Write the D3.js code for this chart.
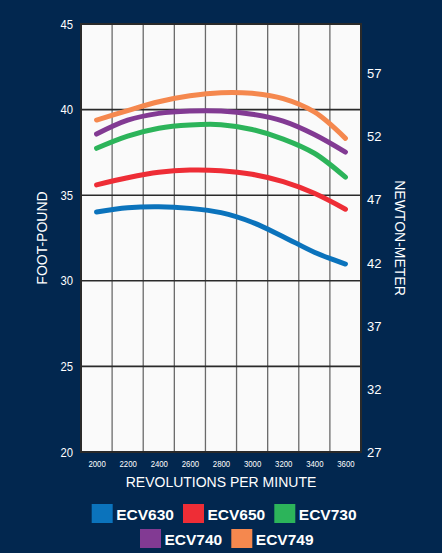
<!DOCTYPE html>
<html><head><meta charset="utf-8">
<script src="https://cdn.jsdelivr.net/npm/d3@7"></script>
<style>html,body{margin:0;padding:0;background:#02274f;} svg{display:block}</style>
</head><body><svg id="c" width="442" height="553"></svg>
<script>
const rpm = [2000,2200,2400,2600,2800,3000,3200,3400,3600];
const ecv630 = [34.02,34.27,34.33,34.23,33.98,33.42,32.58,31.67,30.98];
const ecv650 = [35.60,36.02,36.34,36.47,36.43,36.22,35.79,35.11,34.18];
const ecv730 = [37.74,38.45,38.91,39.10,39.12,38.84,38.28,37.45,36.05];
const ecv740 = [38.57,39.38,39.78,39.92,39.92,39.73,39.33,38.55,37.52];
const ecv749 = [39.39,39.94,40.46,40.81,40.99,40.95,40.64,39.86,38.32];
const seriesNames = ["ECV630","ECV650","ECV730","ECV740","ECV749"];
const seriesColors = ["#0b73bc","#ee2d36","#2cb45a","#823a93","#f5884e"];
const ftTicks = [20,25,30,35,40,45];
const nmTicks = [27,32,37,42,47,52,57];
const xTitle = "REVOLUTIONS PER MINUTE", yTitle = "FOOT-POUND", y2Title = "NEWTON-METER";

const seriesValues = [ecv630, ecv650, ecv730, ecv740, ecv749];
const FONT = "'Liberation Sans', Arial, Helvetica, sans-serif";
const svg = d3.select("#c");
const W = 442, H = 553;
const L = 81, R = 361, T = 24, B = 452;

svg.append("rect").attr("width", W).attr("height", H).attr("fill", "#02274f");

const x = d3.scaleLinear().domain([1900, 3700]).range([L, R]);
const y = d3.scaleLinear().domain([20, 45]).range([B, T]);
const yR = d3.scaleLinear().domain([27, 60.94]).range([B, T]);

svg.append("rect").attr("x", L).attr("y", T).attr("width", R - L).attr("height", B - T).attr("fill", "#fafafa");

// vertical grid between rpm ticks
const vGrid = rpm.slice(0, -1).map((d, i) => (d + rpm[i + 1]) / 2);
svg.append("g").selectAll("line").data(vGrid).join("line")
  .attr("x1", d => x(d)).attr("x2", d => x(d)).attr("y1", T).attr("y2", B)
  .attr("stroke", "#6a6a6a").attr("stroke-width", 1.3);

// horizontal grid
svg.append("g").selectAll("line").data(ftTicks.slice(1, -1)).join("line")
  .attr("x1", L).attr("x2", R).attr("y1", d => y(d)).attr("y2", d => y(d))
  .attr("stroke", "#2a2a2a").attr("stroke-width", 1.6);

svg.append("rect").attr("x", L).attr("y", T).attr("width", R - L).attr("height", B - T)
  .attr("fill", "none").attr("stroke", "#2a2a2a").attr("stroke-width", 2);

// lines
const line = d3.line().x(d => x(d[0])).y(d => y(d[1])).curve(d3.curveCatmullRom.alpha(0.5));
svg.append("g").selectAll("path").data(seriesValues).join("path")
  .attr("d", vals => line(rpm.map((r, i) => [r, vals[i]])))
  .attr("fill", "none")
  .attr("stroke", (d, i) => seriesColors[i])
  .attr("stroke-width", 5)
  .attr("stroke-linecap", "round");

function styleAxis(g, size) {
  g.select(".domain").remove();
  g.selectAll("text").attr("fill", "#ffffff").attr("font-family", FONT).attr("font-size", size);
}

const axL = svg.append("g").attr("transform", `translate(${L},0)`)
  .call(d3.axisLeft(y).tickValues(ftTicks).tickSize(0).tickPadding(8));
styleAxis(axL, 12.5);
axL.selectAll("text").attr("transform", "scale(0.9,1)").attr("x", -8 / 0.9);

const axR = svg.append("g").attr("transform", `translate(${R},0)`)
  .call(d3.axisRight(yR).tickValues(nmTicks).tickSize(0).tickPadding(6));
styleAxis(axR, 13);

const axB = svg.append("g").attr("transform", `translate(0,${B})`)
  .call(d3.axisBottom(x).tickValues(rpm).tickFormat(d3.format("d")).tickSize(0).tickPadding(8));
styleAxis(axB, 9.5);
axB.selectAll("text").attr("transform", "scale(0.82,1)");

// titles
svg.append("text").attr("x", (L + R) / 2).attr("y", 486.5).attr("text-anchor", "middle")
  .attr("fill", "#fff").attr("font-family", FONT).attr("font-size", 14).text(xTitle);
svg.append("text").attr("transform", `translate(41.5,${(T + B) / 2}) rotate(-90)`)
  .attr("text-anchor", "middle").attr("dominant-baseline", "central")
  .attr("fill", "#fff").attr("font-family", FONT).attr("font-size", 14).text(yTitle);
svg.append("text").attr("transform", `translate(399.5,${(T + B) / 2}) rotate(90)`)
  .attr("text-anchor", "middle").attr("dominant-baseline", "central")
  .attr("fill", "#fff").attr("font-family", FONT).attr("font-size", 14).text(y2Title);

// legend
const rows = [[0, 1, 2], [3, 4]];
const rowStart = [91.7, 140];
const rowY = [504, 529];
const step = 91.3;
rows.forEach((row, ri) => {
  row.forEach((si, k) => {
    const gx = rowStart[ri] + k * step;
    const g = svg.append("g").attr("transform", `translate(${gx},${rowY[ri]})`);
    g.append("rect").attr("width", 21).attr("height", 19).attr("fill", seriesColors[si]);
    g.append("text").attr("x", 24.5).attr("y", 15.6)
      .attr("fill", "#fff").attr("font-family", FONT).attr("font-weight", "bold")
      .attr("font-size", 15.5).text(seriesNames[si]);
  });
});
</script></body></html>
